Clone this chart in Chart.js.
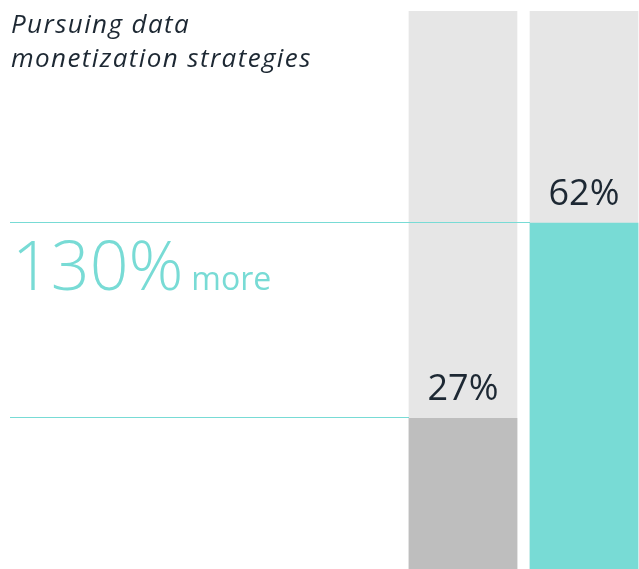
<!DOCTYPE html>
<html>
<head>
<meta charset="utf-8">
<script src="https://cdn.jsdelivr.net/npm/chart.js@4.4.1/dist/chart.umd.min.js"></script>
<style>
    body { margin: 0; background: #fff; }
    #wrap { position: relative; width: 639px; height: 569px; }
    #chart { position: absolute; left: 0; top: 0; }
    .title {
        position: absolute; left: 11px; top: 6px;
        font-family: "Open Sans", sans-serif; font-style: italic;
        font-size: 26px; line-height: 34px; letter-spacing: 1.4px; color: #1d2833;
    }
    .callout {
        position: absolute; left: 12px; top: 217px;
        font-family: "Open Sans", sans-serif; color: #78dbd5; white-space: nowrap;
    }
    .callout .big { font-size: 68px; font-weight: 300; }
    .callout .small { font-size: 32px; font-weight: 400; margin-left: 8px; }
</style>
</head>
<body>
<div id="wrap">
    <canvas id="chart" width="639" height="569"></canvas>
    <div class="title">Pursuing data<br>monetization strategies</div>
    <div class="callout"><span class="big" id="bigNum"></span><span class="small">more</span></div>
</div>
<script>
// Data
const groups = ['Others', 'Leaders'];
const values = [27, 62];
const fullScale = [100, 100];
const barColors = ['#bebebe', '#78dbd5'];
const trackColor = '#e6e6e6';
const lineColor = '#78dbd5';
const highlight = '130%';

document.getElementById('bigNum').textContent = highlight;

const barWidth = 108;

// reference lines from the left text column to each bar top, plus value labels
const refLines = {
    id: 'refLines',
    afterDatasetsDraw(chart) {
        const ctx = chart.ctx;
        const x = chart.scales.x;
        const y = chart.scales.y;
        ctx.save();
        ctx.strokeStyle = lineColor;
        ctx.lineWidth = 1;
        values.forEach((v, i) => {
            const py = Math.round(y.getPixelForValue(v)) - 0.5;
            const endX = x.getPixelForValue(i) - barWidth / 2;
            ctx.beginPath();
            ctx.moveTo(10, py);
            ctx.lineTo(endX, py);
            ctx.stroke();
        });
        ctx.fillStyle = '#1d2833';
        ctx.font = '36px "Open Sans", sans-serif';
        ctx.textAlign = 'center';
        ctx.textBaseline = 'alphabetic';
        values.forEach((v, i) => {
            ctx.fillText(v + '%', x.getPixelForValue(i), y.getPixelForValue(v) - 18);
        });
        ctx.restore();
    }
};

const ctx = document.getElementById('chart').getContext('2d');
new Chart(ctx, {
    type: 'bar',
    data: {
        datasets: [
            {
                label: 'value',
                data: values.map((v, i) => ({ x: i, y: v })),
                backgroundColor: barColors,
                barThickness: barWidth,
                grouped: false,
                order: 1
            },
            {
                label: 'track',
                data: fullScale.map((v, i) => ({ x: i, y: v })),
                backgroundColor: trackColor,
                barThickness: barWidth,
                grouped: false,
                order: 2
            }
        ]
    },
    options: {
        responsive: false,
        animation: false,
        layout: { padding: { top: 11, left: 0, right: 0, bottom: 0 } },
        plugins: {
            legend: { display: false },
            tooltip: { enabled: false }
        },
        scales: {
            // x=0 lands at 463px, x=1 at 584px
            x: { type: 'linear', min: -3.826, max: 1.4545, display: false, offset: false },
            y: { min: 0, max: 100, display: false }
        }
    },
    plugins: [refLines]
});
</script>
</body>
</html>
